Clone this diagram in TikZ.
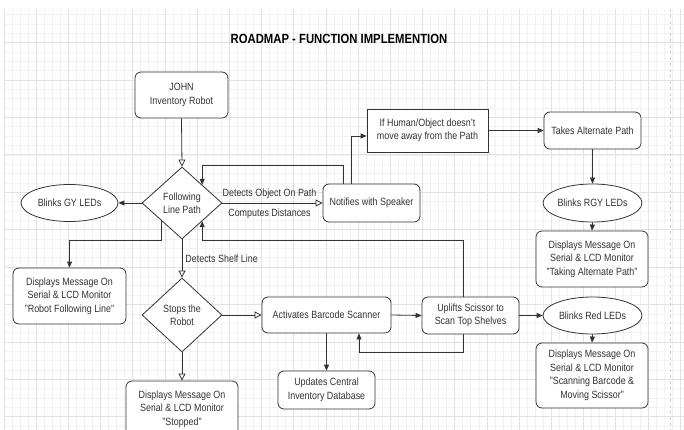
\documentclass[tikz,border=0pt]{standalone}
\usepackage{fontspec}
\setmainfont{Liberation Sans}[FakeStretch=0.85]
\usetikzlibrary{shapes.geometric,arrows.meta,calc}
\definecolor{gridminor}{HTML}{F2F2F2}
\definecolor{gridmajor}{HTML}{E2E2E2}
\definecolor{ink}{HTML}{333333}
\tikzset{
  base/.style={draw=ink, line width=0.8pt, fill=white, align=center, inner sep=0pt,
    font=\fontsize{10.5}{13.5}\selectfont, text=ink},
  rbox/.style={base, rectangle, rounded corners=6pt},
  sbox/.style={base, rectangle},
  oval/.style={base, ellipse},
  decide/.style={base, diamond},
  conn/.style={draw=ink, line width=0.8pt},
  arr/.style={conn, -{Triangle[length=6pt,width=5pt]}},
  oarr/.style={conn, -{Triangle[open,length=7pt,width=7pt,fill=white]}},
  lbl/.style={font=\fontsize{10.5}{13.5}\selectfont, text=ink, inner sep=0pt},
}
\begin{document}
\begin{tikzpicture}[x=1pt,y=-1pt]
\useasboundingbox (0,0) rectangle (684,430);
\clip (0,0) rectangle (684,430);
% grid
\foreach \i in {0,...,85} {\draw[gridminor, line width=0.5pt] (3.8+8.05*\i,9) -- (3.8+8.05*\i,430);}
\foreach \k in {-7,...,37} {\draw[gridminor, line width=0.5pt] (5,80+9.35*\k) -- (684,80+9.35*\k);}
\foreach \i in {0,...,21} {\draw[gridmajor, line width=0.6pt] (3.8+32.2*\i,9) -- (3.8+32.2*\i,430);}
\foreach \k in {-1,...,9} {\draw[gridmajor, line width=0.6pt] (5,80+37.4*\k) -- (684,80+37.4*\k);}
\draw[gray!35, dashed, line width=0.6pt] (670,9) -- (670,430);

% title
\node[font=\fontsize{13.3}{15}\selectfont\bfseries, inner sep=0pt] (title) at (339,39) {ROADMAP - FUNCTION IMPLEMENTION};

% nodes
\node[rbox, minimum width=93pt, minimum height=46pt] (john) at (181.5,95) {JOHN\\Inventory Robot};
\node[decide, minimum width=80pt, minimum height=72pt] (follow) at (182,203) {Following\\Line Path};
\node[oval, minimum width=97pt, minimum height=37pt] (gy) at (69.5,203) {Blinks GY LEDs};
\node[rbox, minimum width=97pt, minimum height=38pt] (notif) at (371.5,203) {Notifies with Speaker};
\node[sbox, minimum width=121pt, minimum height=43pt] (human) at (427.5,130.5) {If Human/Object doesn't\\move away from the Path};
\node[rbox, minimum width=97pt, minimum height=37pt] (alt) at (592.5,130.5) {Takes Alternate Path};
\node[oval, minimum width=97pt, minimum height=38pt] (rgy) at (592.5,203) {Blinks RGY LEDs};
\node[rbox, minimum width=112pt, minimum height=56pt] (dtake) at (592,259) {Displays Message On\\Serial \& LCD Monitor\\"Taking Alternate Path"};
\node[rbox, minimum width=113pt, minimum height=56pt] (drfl) at (69.5,296) {Displays Message On\\Serial \& LCD Monitor\\"Robot Following Line"};
\node[decide, minimum width=80pt, minimum height=74pt] (stop) at (182,315) {Stops the\\Robot};
\node[rbox, minimum width=112pt, minimum height=56pt] (dstop) at (182,409) {Displays Message On\\Serial \& LCD Monitor\\"Stopped"};
\node[rbox, minimum width=129pt, minimum height=36pt] (act) at (326.5,315) {Activates Barcode Scanner};
\node[rbox, minimum width=97pt, minimum height=38pt] (upd) at (326.5,390) {Updates Central\\Inventory Database};
\node[rbox, minimum width=97pt, minimum height=37pt] (upl) at (470.5,315.5) {Uplifts Scissor to\\Scan Top Shelves};
\node[oval, minimum width=99pt, minimum height=37pt] (red) at (592.5,315.5) {Blinks Red LEDs};
\node[rbox, minimum width=112pt, minimum height=65pt] (dscan) at (592,375.5) {Displays Message On\\Serial \& LCD Monitor\\"Scanning Barcode \&\\Moving Scissor"};

% connectors
\draw[oarr] (john.south) -- (follow.north);
\draw[arr] (follow.west) -- (gy.east);
\draw[oarr] (follow.east) -- (notif.west)
  node[lbl, pos=0.47, above=4pt] (l1) {Detects Object On Path}
  node[lbl, pos=0.47, below=5pt] (l2) {Computes Distances};
\draw[arr] ([xshift=-28.5pt]notif.north) -- ++(0,-18) -| (follow.north east);
\draw[arr] ([xshift=-20.5pt]notif.north) |- ($(human.west)+(0,5.5)$);
\draw[arr] (human.east) -- (alt.west);
\draw[arr] (alt.south) -- (rgy.north);
\draw[arr] (rgy.south) -- (dtake.north);
\draw[arr] ([xshift=-7.5pt]upl.north) |- ($(follow.south east)+(0,19)$) -- (follow.south east);
\draw[arr] (follow.south west) -- ++(0,19) -| (drfl.north);
\draw[oarr] (follow.south) -- (stop.north)
  node[lbl, pos=0.5, anchor=west, xshift=3pt] (l3) {Detects Shelf Line};
\draw[oarr] (stop.east) -- (act.west);
\draw[oarr] (stop.south) -- (dstop.north);
\draw[arr] (act.east) -- (upl.west);
\draw[arr] (act.south) -- (upd.north);
\draw[arr] ([xshift=-7.5pt]upl.south) -- ++(0,18) -| ([xshift=32.5pt]act.south);
\draw[arr] (upl.east) -- (red.west);
\draw[arr] (red.south) -- (dscan.north);
\end{tikzpicture}
\end{document}
